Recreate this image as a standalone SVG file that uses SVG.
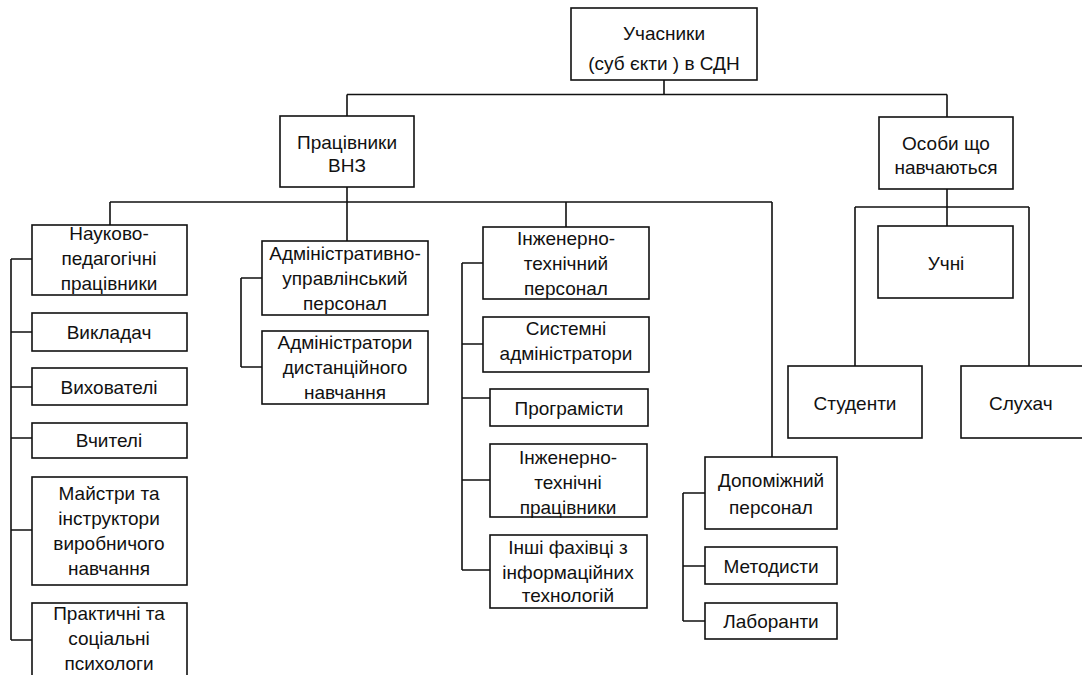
<svg xmlns="http://www.w3.org/2000/svg" width="1082" height="675" viewBox="0 0 1082 675">
<style>
rect{fill:#fff;stroke:#111;stroke-width:1.6}
text{font-family:"Liberation Sans",Arial,sans-serif;font-size:19px;fill:#111;text-anchor:middle}
#connectors path{fill:none;stroke:#111;stroke-width:1.6}
</style>
<rect x="0" y="0" width="1082" height="675" style="stroke:none"/>
<g id="connectors">
<path d="M664 80V94.5M347 94.5H947M347 94.5V116M947 94.5V117"/>
<path d="M347 187V202M110 202H772M110 202V225M347 202V241M566 202V227M772 202V457"/>
<path d="M11 259V640M11 259H32M11 332H32M11 387H32M11 438H32M11 530H32M11 640H32"/>
<path d="M241 278V367M241 278H262M241 367H262"/>
<path d="M462 263V570M462 263H483M462 344H483M462 398H490M462 480H490M462 570H490"/>
<path d="M683 493V621M683 493H705M683 566H705M683 621H705"/>
<path d="M947 189V226M855 207H1029M855 207V366M1029 207V366"/>
</g>
<g id="root"><rect x="571" y="8" width="186" height="72"/><text x="664" y="40">Учасники</text><text x="664" y="70">(суб єкти ) в СДН</text></g>
<g id="staff"><rect x="280" y="116" width="134" height="71"/><text x="347" y="149">Працівники</text><text x="347" y="172">ВНЗ</text></g>
<g id="learners"><rect x="879" y="117" width="134" height="72"/><text x="946" y="150">Особи  що</text><text x="946" y="174">навчаються</text></g>
<g id="sci"><rect x="32" y="225" width="155" height="70"/><text x="109" y="240">Науково-</text><text x="109" y="265">педагогічні</text><text x="109" y="290">працівники</text></g>
<g id="lecturer"><rect x="32" y="313" width="155" height="38"/><text x="109" y="339">Викладач</text></g>
<g id="educators"><rect x="32" y="368" width="155" height="37"/><text x="109" y="394">Вихователі</text></g>
<g id="teachers"><rect x="32" y="423" width="155" height="35"/><text x="109" y="447">Вчителі</text></g>
<g id="masters"><rect x="32" y="477" width="155" height="108"/><text x="109" y="500">Майстри та</text><text x="109" y="525">інструктори</text><text x="109" y="550">виробничого</text><text x="109" y="575">навчання</text></g>
<g id="psych"><rect x="32" y="603" width="155" height="90"/><text x="109" y="620">Практичні та</text><text x="109" y="645">соціальні</text><text x="109" y="670">психологи</text></g>
<g id="admin"><rect x="262" y="241" width="166" height="74"/><text x="345" y="260">Адміністративно-</text><text x="345" y="285">управлінський</text><text x="345" y="310">персонал</text></g>
<g id="distadmin"><rect x="262" y="331" width="166" height="73"/><text x="345" y="349">Адміністратори</text><text x="345" y="374">дистанційного</text><text x="345" y="399">навчання</text></g>
<g id="eng"><rect x="483" y="227" width="166" height="72"/><text x="566" y="245">Інженерно-</text><text x="566" y="270">технічний</text><text x="566" y="295">персонал</text></g>
<g id="sysadmin"><rect x="483" y="317" width="166" height="55"/><text x="566" y="335">Системні</text><text x="566" y="360">адміністратори</text></g>
<g id="programmers"><rect x="490" y="389" width="158" height="37"/><text x="569" y="415">Програмісти</text></g>
<g id="engworkers"><rect x="490" y="444" width="157" height="73"/><text x="568" y="464">Інженерно-</text><text x="568" y="489">технічні</text><text x="568" y="514">працівники</text></g>
<g id="itspec"><rect x="490" y="535" width="157" height="73"/><text x="568" y="554">Інші фахівці з</text><text x="568" y="579">інформаційних</text><text x="568" y="602">технологій</text></g>
<g id="aux"><rect x="705" y="457" width="132" height="72"/><text x="771" y="487">Допоміжний</text><text x="771" y="514">персонал</text></g>
<g id="methodists"><rect x="705" y="547" width="132" height="37"/><text x="771" y="573">Методисти</text></g>
<g id="labs"><rect x="705" y="603" width="132" height="36"/><text x="771" y="628">Лаборанти</text></g>
<g id="pupils"><rect x="878" y="226" width="135" height="72"/><text x="946" y="270">Учні</text></g>
<g id="students"><rect x="788" y="366" width="134" height="72"/><text x="855" y="410">Студенти</text></g>
<g id="listeners"><rect x="961" y="366" width="140" height="72"/><text x="989" y="410" style="text-anchor:start">Слухач</text></g>
</svg>
